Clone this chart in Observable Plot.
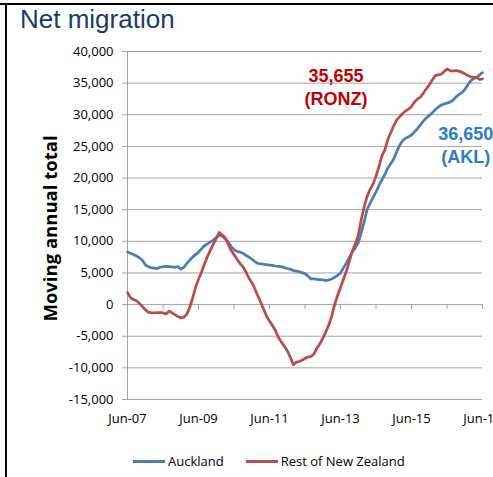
<!DOCTYPE html>
<html>
<head>
<meta charset="utf-8">
<script src="https://cdn.jsdelivr.net/npm/d3@7"></script>
<script src="https://cdn.jsdelivr.net/npm/@observablehq/plot@0.6"></script>
<style>
  html, body { margin: 0; padding: 0; background: #fff; }
  body { width: 493px; height: 477px; overflow: hidden; position: relative; }
  .title { height: 34px; padding: 6px 0 0 20px; font: 26px/26px "Liberation Sans", Arial, sans-serif; color: #1b3a6b; }
  .legend { height: 32px; padding: 10px 0 0 133px; display: flex; align-items: center; font: 13px/14px "Open Sans", sans-serif; color: #000; }
  .legend .sw { display: inline-block; width: 32px; height: 3px; margin-right: 3px; }
  .legend .item { display: flex; align-items: center; margin-right: 22px; }
  .frame-top { position: absolute; left: 0; top: 3px; width: 493px; height: 2px; background: #000; }
  .frame-left { position: absolute; left: 5px; top: 3px; width: 2px; height: 480px; background: #000; }
  #chart svg { display: block; }
</style>
</head>
<body>
<div class="frame-top"></div>
<div class="frame-left"></div>
<div class="title">Net migration</div>
<div id="chart"></div>
<div class="legend" id="legend"></div>
<script>
// ---- data (monthly moving annual totals, Jun-07 .. Jun-17) ----
const seriesNames = ["Auckland", "Rest of New Zealand"];
const aucklandValues = [
  8300,8100,7900,7700,7400,7000,6300,6000,5800,5750,
  5700,5900,6000,6050,6000,5950,5900,6000,5600,5900,
  6500,7000,7500,7900,8300,8800,9300,9600,9900,10200,
  10600,11000,10800,10400,9900,9200,8700,8400,8300,8100,
  7800,7500,7200,6800,6500,6450,6400,6300,6250,6200,
  6100,6050,6000,5850,5700,5600,5400,5300,5200,5050,
  4900,4500,4050,4050,4000,3950,3900,3800,3900,4050,
  4300,4600,5000,5800,6600,7500,8300,9000,9800,11400,
  13200,15000,16000,16900,17800,18800,19700,20600,21600,22300,
  23000,24200,25200,25900,26300,26500,26800,27300,27800,28400,
  29000,29500,29900,30300,30800,31200,31500,31700,31850,32000,
  32300,32800,33200,33500,34000,34700,35400,35700,35900,36300,
  36650
];
const ronzValues = [
  1900,1100,800,600,200,-300,-800,-1200,-1300,-1300,
  -1250,-1250,-1300,-1500,-1050,-1300,-1600,-1900,-2100,-2000,
  -1500,-500,1000,2700,4000,5100,6400,7600,8600,9600,
  10500,11400,11000,10600,9600,8600,7900,7200,6500,6000,
  5200,4200,3500,2500,1400,400,-700,-1800,-2600,-3300,
  -4100,-5200,-5900,-6600,-7300,-8300,-9500,-9100,-9000,-8800,
  -8500,-8300,-8200,-7800,-6900,-6200,-5300,-4300,-3200,-1900,
  0,1400,2700,4000,5300,6900,8500,9600,11000,13500,
  15500,17100,18200,19000,20300,21800,23500,24500,26100,27200,
  28300,29200,29700,30200,30600,30900,31300,32000,32500,32800,
  33400,34100,34700,35500,36200,36300,36400,36800,37250,37000,
  36900,37000,36900,36700,36500,36200,36000,35900,35900,35600,
  35655
];
const startYear = 2007, startMonth = 5; // June 2007
const tickYears = [2007,2008,2009,2010,2011,2012,2013,2014,2015,2016,2017];
const labelYears = [2007,2009,2011,2013,2015,2017];
const yTicks = [-15000,-10000,-5000,0,5000,10000,15000,20000,25000,30000,35000,40000];
const yAxisTitle = "Moving annual total";
const endLabels = [
  {name: "Rest of New Zealand", text: "35,655\n(RONZ)", date: [2013, 3, 15], value: 34500},
  {name: "Auckland", text: "36,650\n(AKL)", date: [2016, 11, 10], value: 25400}
];

// ---- build ----
const colors = {"Auckland": "#4a7ebb", "Rest of New Zealand": "#be4b48"};
const labelColors = {"Auckland": "#2f7bc4", "Rest of New Zealand": "#c00000"};
const monthDate = m => new Date(Date.UTC(startYear, startMonth + m, 1));
const data = [
  ...aucklandValues.map((v, i) => ({series: "Auckland", date: monthDate(i), value: v})),
  ...ronzValues.map((v, i) => ({series: "Rest of New Zealand", date: monthDate(i), value: v}))
];
const junDate = y => new Date(Date.UTC(y, 5, 1));
const xDomain = [monthDate(0), monthDate(aucklandValues.length - 1)];
const fmtY = d => d.toLocaleString("en-US");
const grid = "#a3a3a3";

const chart = Plot.plot({
  width: 493,
  height: 395,
  marginTop: 11,
  marginBottom: 36,
  marginLeft: 127,
  marginRight: 11,
  style: {fontFamily: "'Open Sans', sans-serif", fontSize: "13px", color: "#000", background: "transparent", overflow: "visible"},
  x: {type: "utc", domain: xDomain, label: null},
  y: {domain: [-15000, 40000], label: null},
  marks: [
    Plot.ruleY(yTicks, {stroke: grid, strokeWidth: 1}),
    Plot.ruleX([xDomain[0]], {stroke: grid, strokeWidth: 1}),
    Plot.ruleX(tickYears.map(junDate), {x: d => d, y1: 0, y2: 0, insetBottom: -5, stroke: grid}),
    Plot.axisY({ticks: yTicks, tickSize: 5, tickPadding: 9, tickFormat: fmtY, stroke: grid, fill: "#000"}),
    Plot.axisX({ticks: labelYears.map(junDate), tickSize: 0, tickPadding: 14,
      tickFormat: d => "Jun-" + String(d.getUTCFullYear()).slice(2), fill: "#000"}),
    Plot.line(data, {x: "date", y: "value", z: "series", stroke: d => colors[d.series], strokeWidth: 2.75, curve: "linear"}),
    Plot.text(endLabels, {
      x: d => new Date(Date.UTC(...d.date)), y: "value", text: "text",
      fill: d => labelColors[d.name], fontFamily: "'Liberation Sans', Arial, sans-serif",
      fontWeight: "bold", fontSize: 18, lineHeight: 1.28, textAnchor: "middle", lineAnchor: "middle"
    }),
    Plot.text([yAxisTitle], {frameAnchor: "left", dx: -76, dy: 3, rotate: -90, textAnchor: "middle", lineAnchor: "middle",
      fontWeight: "bold", fontSize: 18.5, fontFamily: "'Open Sans', sans-serif", fill: "#000"})
  ]
});
document.getElementById("chart").appendChild(chart);

const legend = document.getElementById("legend");
seriesNames.forEach(name => {
  const item = document.createElement("span");
  item.className = "item";
  const sw = document.createElement("span");
  sw.className = "sw";
  sw.style.background = colors[name];
  item.appendChild(sw);
  item.appendChild(document.createTextNode(name));
  legend.appendChild(item);
});
</script>
</body>
</html>
